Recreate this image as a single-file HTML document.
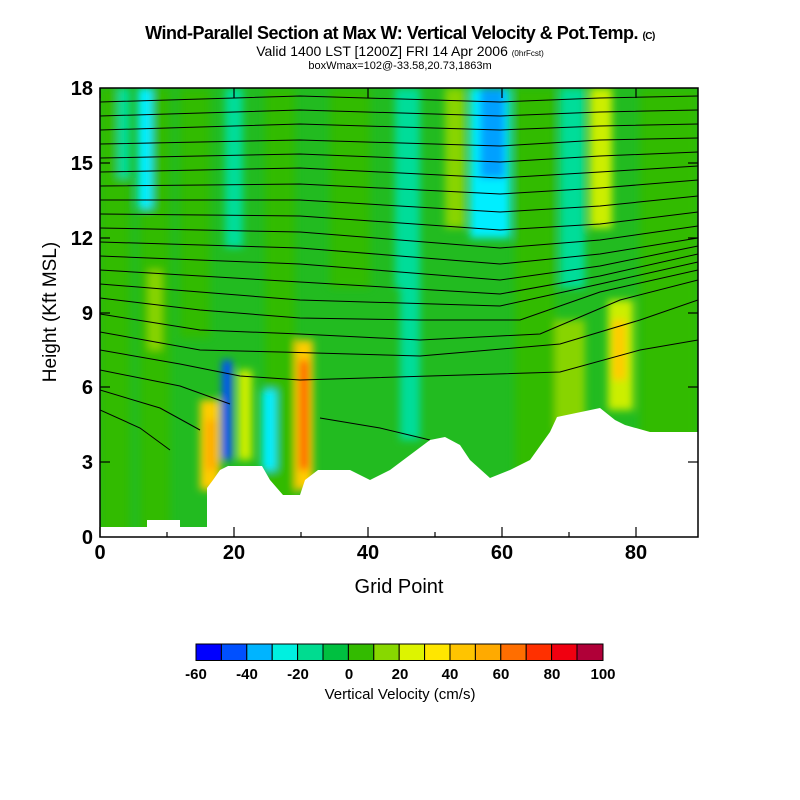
<!DOCTYPE html>
<html><head><meta charset="utf-8"><style>
body{margin:0;background:#fff;width:800px;height:800px;overflow:hidden;font-family:"Liberation Sans",sans-serif}
.t{position:absolute;left:0;width:800px;text-align:center;color:#000}
</style></head><body>
<div class="t" style="top:23px;font-size:18px;font-weight:bold;letter-spacing:-0.5px">Wind-Parallel Section at Max W: Vertical Velocity &amp; Pot.Temp. <span style="font-size:10px">(C)</span></div>
<div class="t" style="top:43px;font-size:14px">Valid 1400 LST [1200Z] FRI 14 Apr 2006 <span style="font-size:8px">(0hrFcst)</span></div>
<div class="t" style="top:60px;font-size:11px">boxWmax=102@-33.58,20.73,1863m</div>
<svg width="800" height="800" style="position:absolute;left:0;top:0">
<defs><filter id="b" x="-20%" y="-20%" width="140%" height="140%"><feGaussianBlur stdDeviation="4"/></filter>
<clipPath id="c"><rect x="100" y="88" width="598" height="449"/></clipPath></defs>
<g clip-path="url(#c)">
<rect x="100" y="88" width="598" height="449" fill="#22bb20"/>
<g filter="url(#b)">
<rect x="100" y="88" width="30" height="449" fill="#33bb00"/>
<rect x="140" y="88" width="30" height="449" fill="#33bb00"/>
<rect x="118" y="88" width="12" height="90" fill="#00dd99"/>
<rect x="138" y="88" width="14" height="120" fill="#00eeff"/>
<rect x="180" y="88" width="30" height="250" fill="#33bb00"/>
<rect x="225" y="88" width="18" height="160" fill="#00dd99"/>
<rect x="265" y="88" width="30" height="449" fill="#33bb00"/>
<rect x="330" y="88" width="40" height="200" fill="#33bb00"/>
<rect x="395" y="88" width="25" height="200" fill="#00dd99"/>
<rect x="400" y="280" width="20" height="160" fill="#00dd99"/>
<rect x="445" y="88" width="20" height="140" fill="#88d400"/>
<rect x="470" y="88" width="40" height="150" fill="#00eeff"/>
<rect x="480" y="88" width="25" height="90" fill="#00a0ff"/>
<rect x="515" y="88" width="40" height="449" fill="#33bb00"/>
<rect x="560" y="88" width="25" height="200" fill="#00dd99"/>
<rect x="590" y="88" width="22" height="140" fill="#ccee00"/>
<rect x="640" y="88" width="58" height="449" fill="#33bb00"/>
<rect x="148" y="270" width="14" height="80" fill="#88d400"/>
<rect x="200" y="400" width="20" height="90" fill="#ffcc00"/>
<rect x="206" y="420" width="10" height="50" fill="#ffaa00"/>
<rect x="222" y="360" width="10" height="100" fill="#0050ff"/>
<rect x="238" y="370" width="14" height="90" fill="#ccee00"/>
<rect x="262" y="390" width="14" height="80" fill="#00eeff"/>
<rect x="295" y="340" width="18" height="150" fill="#ffcc00"/>
<rect x="300" y="360" width="8" height="110" fill="#ff4400"/>
<rect x="555" y="320" width="30" height="110" fill="#88d400"/>
<rect x="608" y="300" width="25" height="110" fill="#ccee00"/>
<rect x="612" y="320" width="14" height="60" fill="#ffcc00"/>
</g>
<g fill="none" stroke="#000" stroke-width="1">
<path d="M100 102 L300 96 L500 102 L600 98 L698 96"/>
<path d="M100 116 L300 110 L500 116 L600 112 L698 110"/>
<path d="M100 130 L300 124 L500 130 L600 126 L698 124"/>
<path d="M100 144 L300 140 L500 146 L600 140 L698 138"/>
<path d="M100 158 L300 154 L500 162 L600 156 L698 152"/>
<path d="M100 172 L300 168 L500 178 L600 172 L698 166"/>
<path d="M100 186 L300 184 L500 194 L600 188 L698 180"/>
<path d="M100 200 L300 200 L500 212 L600 206 L698 196"/>
<path d="M100 214 L300 216 L500 230 L600 224 L698 212"/>
<path d="M100 228 L300 232 L500 248 L600 240 L698 226"/>
<path d="M100 242 L300 248 L500 264 L600 254 L698 238"/>
<path d="M100 256 L300 264 L500 280 L600 266 L698 246"/>
<path d="M100 270 L300 282 L500 294 L600 276 L698 254"/>
<path d="M100 284 L200 292 L300 300 L500 306 L600 284 L698 262"/>
<path d="M100 298 L200 310 L300 318 L420 320 L520 320 L600 292 L698 270"/>
<path d="M100 314 L200 330 L300 334 L420 340 L540 334 L620 300 L698 280"/>
<path d="M100 332 L200 350 L280 352 L420 356 L560 344 L640 320 L698 300"/>
<path d="M100 350 L180 364 L240 376 L300 380 L430 376 L560 372 L640 350 L698 340"/>
<path d="M100 370 L180 386 L230 404 M320 418 L380 428 L430 440"/>
<path d="M100 390 L160 408 L200 430"/>
<path d="M100 410 L140 428 L170 450"/>
</g>
<polygon fill="#fff" points="100,537 100,527 147,527 147,520 180,520 180,527 207,527 207,488 213,480 220,470 228,466 262,466 270,480 283,495 300,495 305,480 318,470 350,470 370,480 390,470 410,455 430,440 445,437 460,445 470,460 490,478 510,470 530,460 550,432 557,417 600,408 615,420 625,425 650,432 698,432 698,537"/>
</g>
<rect x="100" y="88" width="598" height="449" fill="none" stroke="#000" stroke-width="1.5"/>
<g stroke="#000" stroke-width="1.2">
<line x1="100" y1="537" x2="100" y2="527"/><line x1="234" y1="537" x2="234" y2="527"/><line x1="368" y1="537" x2="368" y2="527"/><line x1="502" y1="537" x2="502" y2="527"/><line x1="636" y1="537" x2="636" y2="527"/>
<line x1="167" y1="537" x2="167" y2="532"/><line x1="301" y1="537" x2="301" y2="532"/><line x1="435" y1="537" x2="435" y2="532"/><line x1="569" y1="537" x2="569" y2="532"/>
<line x1="100" y1="88" x2="100" y2="98"/><line x1="234" y1="88" x2="234" y2="98"/><line x1="368" y1="88" x2="368" y2="98"/><line x1="502" y1="88" x2="502" y2="98"/><line x1="636" y1="88" x2="636" y2="98"/>
<line x1="100" y1="462" x2="110" y2="462"/><line x1="100" y1="387" x2="110" y2="387"/><line x1="100" y1="313" x2="110" y2="313"/><line x1="100" y1="238" x2="110" y2="238"/><line x1="100" y1="163" x2="110" y2="163"/>
<line x1="698" y1="462" x2="688" y2="462"/><line x1="698" y1="387" x2="688" y2="387"/><line x1="698" y1="313" x2="688" y2="313"/><line x1="698" y1="238" x2="688" y2="238"/><line x1="698" y1="163" x2="688" y2="163"/>
</g>
<g font-size="20" text-anchor="middle" fill="#000" font-weight="bold">
<text x="100" y="559">0</text><text x="234" y="559">20</text><text x="368" y="559">40</text><text x="502" y="559">60</text><text x="636" y="559">80</text>
</g>
<g font-size="20" text-anchor="end" fill="#000" font-weight="bold">
<text x="93" y="544">0</text><text x="93" y="469">3</text><text x="93" y="394">6</text><text x="93" y="320">9</text><text x="93" y="245">12</text><text x="93" y="170">15</text><text x="93" y="95">18</text>
</g>
<text x="399" y="593" font-size="20" text-anchor="middle">Grid Point</text>
<text transform="translate(56 312) rotate(-90)" font-size="19" text-anchor="middle">Height (Kft MSL)</text>
<g stroke="#000" stroke-width="1">
<rect x="196" y="644" width="25.4" height="16.5" fill="#0000ff"/>
<rect x="221.4" y="644" width="25.4" height="16.5" fill="#0050ff"/>
<rect x="246.8" y="644" width="25.4" height="16.5" fill="#00b4ff"/>
<rect x="272.2" y="644" width="25.4" height="16.5" fill="#00f0e0"/>
<rect x="297.6" y="644" width="25.4" height="16.5" fill="#00dc90"/>
<rect x="323" y="644" width="25.4" height="16.5" fill="#00c040"/>
<rect x="348.4" y="644" width="25.4" height="16.5" fill="#33bb00"/>
<rect x="373.8" y="644" width="25.4" height="16.5" fill="#88d800"/>
<rect x="399.2" y="644" width="25.4" height="16.5" fill="#ddf400"/>
<rect x="424.6" y="644" width="25.4" height="16.5" fill="#ffe600"/>
<rect x="450" y="644" width="25.4" height="16.5" fill="#ffc400"/>
<rect x="475.4" y="644" width="25.4" height="16.5" fill="#ffaa00"/>
<rect x="500.8" y="644" width="25.4" height="16.5" fill="#ff6e00"/>
<rect x="526.2" y="644" width="25.4" height="16.5" fill="#ff3000"/>
<rect x="551.6" y="644" width="25.4" height="16.5" fill="#f00010"/>
<rect x="577" y="644" width="26" height="16.5" fill="#b00038"/>
</g>
<g font-size="15" text-anchor="middle" font-weight="bold">
<text x="196" y="679">-60</text><text x="247" y="679">-40</text><text x="298" y="679">-20</text><text x="349" y="679">0</text><text x="400" y="679">20</text><text x="450" y="679">40</text><text x="501" y="679">60</text><text x="552" y="679">80</text><text x="603" y="679">100</text>
</g>
<text x="400" y="699" font-size="15" text-anchor="middle">Vertical Velocity (cm/s)</text>
</svg>
</body></html>
